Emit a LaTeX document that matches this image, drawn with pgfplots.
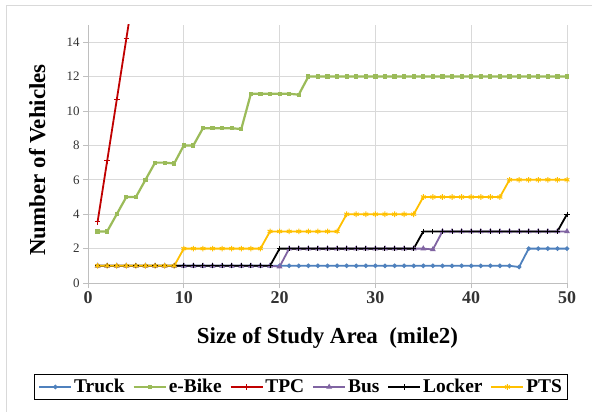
\documentclass[border=0pt]{standalone}
\usepackage{fontspec}
\setmainfont{Liberation Serif}
\usepackage{pgfplots}
\pgfplotsset{compat=1.18}
\definecolor{cTruck}{HTML}{4F81BD}
\definecolor{cBike}{HTML}{9BBB59}
\definecolor{cTPC}{HTML}{C00000}
\definecolor{cBus}{HTML}{8064A2}
\definecolor{cPTS}{HTML}{FFC000}
\definecolor{cGrid}{HTML}{D9D9D9}
\definecolor{cAxis}{HTML}{BFBFBF}
\begin{document}
\begin{tikzpicture}[x=1bp,y=1bp]
\path[use as bounding box] (0,0) rectangle (592,411);
\fill[white] (0,0) rectangle (592,411);
\draw[cGrid, line width=1bp] (6,-5) -- (6,405) -- (600,405);
\begin{axis}[
  at={(88bp,128bp)}, anchor=south west,
  width=479bp, height=258bp, scale only axis,
  xmin=0, xmax=50, ymin=0, ymax=15,
  xtick={0,10,...,50}, ytick={0,2,...,14},
  xticklabels={0,10,20,30,40,50},
  yticklabels={0,2,4,6,8,10,12,14},
  axis x line=bottom, axis y line=left,
  axis line style={-, draw=cAxis, line width=0.9bp},
  grid=major, major grid style={cGrid, line width=0.9bp},
  tick style={cAxis, line width=0.9bp}, tick align=outside, major tick length=5bp,
  /pgf/number format/assume math mode=true,
  xticklabel style={font=\bfseries\fontsize{18}{18}\selectfont, color=black!80},
  yticklabel style={font=\fontsize{13}{13}\selectfont, color=black!80},
  xlabel={Size of Study Area\ \ (mile2)},
  ylabel={Number of Vehicles},
  xlabel style={font=\bfseries\fontsize{23}{23}\selectfont, at={(axis description cs:0.5,-0.213)}, anchor=center},
  ylabel style={font=\bfseries\fontsize{23}{23}\selectfont, at={(axis description cs:-0.106,0.477)}, anchor=center},
  legend columns=6,
  legend style={at={(0.445,-0.403)}, anchor=center, draw=black, line width=1bp,
    font=\bfseries\fontsize{19.5}{20}\selectfont, inner xsep=4bp, inner ysep=3.5bp,
    /tikz/every even column/.append style={column sep=6bp}},
  legend image code/.code={\draw[#1, mark repeat=2, mark phase=2] plot coordinates {(0bp,0bp) (16bp,0bp) (32bp,0bp)};},
  every axis plot/.append style={line width=1.8bp, mark options={solid, line width=1bp}},
]
\addplot[color=cTruck, mark=*, mark size=1.8bp] coordinates {
(1,1)(2,1)(3,1)(4,1)(5,1)(6,1)(7,1)(8,1)(9,1)(10,1)(11,1)(12,1)(13,1)(14,1)(15,1)(16,1)(17,1)(18,1)(19,1)(20,1)
(21,1)(22,1)(23,1)(24,1)(25,1)(26,1)(27,1)(28,1)(29,1)(30,1)(31,1)(32,1)(33,1)(34,1)(35,1)(36,1)(37,1)(38,1)(39,1)(40,1)
(41,1)(42,1)(43,1)(44,1)(45,0.93)(46,2)(47,2)(48,2)(49,2)(50,2)};
\addlegendentry{Truck}
\addplot[color=cBike, mark=square*, mark size=1.6bp, line width=2.2bp] coordinates {
(1,3)(2,3)(3,4)(4,5)(5,5)(6,6)(7,7)(8,7)(9,6.95)(10,8)(11,8)(12,9)(13,9)(14,9)(15,9)(16,8.95)(17,11)(18,11)(19,11)(20,11)
(21,11)(22,10.95)(23,12)(24,12)(25,12)(26,12)(27,12)(28,12)(29,12)(30,12)(31,12)(32,12)(33,12)(34,12)(35,12)(36,12)(37,12)(38,12)(39,12)(40,12)
(41,12)(42,12)(43,12)(44,12)(45,12)(46,12)(47,12)(48,12)(49,12)(50,12)};
\addlegendentry{e-Bike}
\addplot[color=cTPC, mark=+, mark size=2.8bp] coordinates {
(1,3.55)(2,7.1)(3,10.65)(4,14.2)(5,17.75)};
\addlegendentry{TPC}
\addplot[color=cBus, mark=triangle*, mark size=2.4bp] coordinates {
(1,1)(2,1)(3,1)(4,1)(5,1)(6,1)(7,1)(8,1)(9,1)(10,1)(11,1)(12,1)(13,1)(14,1)(15,1)(16,1)(17,1)(18,1)(19,1)(20,0.95)
(21,2)(22,2)(23,2)(24,2)(25,2)(26,2)(27,2)(28,2)(29,2)(30,2)(31,2)(32,2)(33,2)(34,2)(35,2)(36,1.95)(37,3)(38,3)(39,3)(40,3)
(41,3)(42,3)(43,3)(44,3)(45,3)(46,3)(47,3)(48,3)(49,3)(50,3)};
\addlegendentry{Bus}
\addplot[color=black, mark=+, mark size=2.6bp] coordinates {
(1,1)(2,1)(3,1)(4,1)(5,1)(6,1)(7,1)(8,1)(9,1)(10,1)(11,1)(12,1)(13,1)(14,1)(15,1)(16,1)(17,1)(18,1)(19,1)(20,2)
(21,2)(22,2)(23,2)(24,2)(25,2)(26,2)(27,2)(28,2)(29,2)(30,2)(31,2)(32,2)(33,2)(34,2)(35,3)(36,3)(37,3)(38,3)(39,3)(40,3)
(41,3)(42,3)(43,3)(44,3)(45,3)(46,3)(47,3)(48,3)(49,3)(50,4)};
\addlegendentry{Locker}
\addplot[color=cPTS, mark=asterisk, mark size=2.8bp] coordinates {
(1,1)(2,1)(3,1)(4,1)(5,1)(6,1)(7,1)(8,1)(9,1)(10,2)(11,2)(12,2)(13,2)(14,2)(15,2)(16,2)(17,2)(18,2)(19,3)(20,3)
(21,3)(22,3)(23,3)(24,3)(25,3)(26,3)(27,4)(28,4)(29,4)(30,4)(31,4)(32,4)(33,4)(34,4)(35,5)(36,5)(37,5)(38,5)(39,5)(40,5)
(41,5)(42,5)(43,5)(44,6)(45,6)(46,6)(47,6)(48,6)(49,6)(50,6)};
\addlegendentry{PTS}
\end{axis}
\end{tikzpicture}
\end{document}
